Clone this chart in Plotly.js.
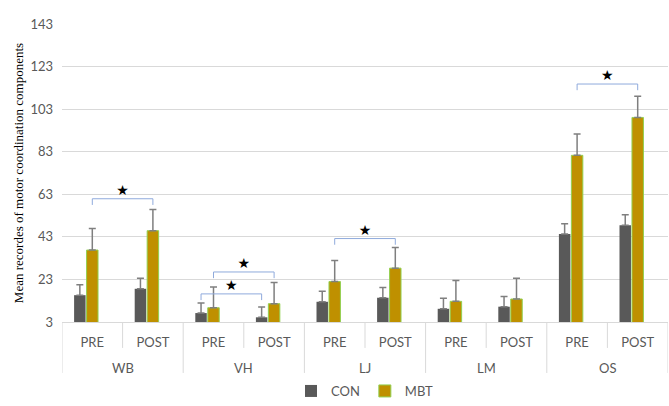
<!DOCTYPE html>
<html>
<head>
<meta charset="utf-8">
<script src="https://cdn.plot.ly/plotly-3.0.1.min.js"></script>
<style>html,body{margin:0;padding:0;background:#fff;}#chart{width:669px;height:406px;}</style>
</head>
<body>
<div id="chart"></div>
<script>
// ---- data ----
const groups = ['WB', 'VH', 'LJ', 'LM', 'OS'];
const phases = ['PRE', 'POST'];
const conMean = [15.6, 18.6, 7.2, 5.2, 12.5, 14.4, 9.2, 10.2, 44.3, 48.4];
const conErr  = [4.9, 4.9, 4.7, 4.8, 4.9, 4.8, 4.9, 4.8, 4.9, 5.0];
const mbtMean = [36.8, 45.9, 9.7, 11.6, 22.0, 28.3, 12.7, 13.8, 81.3, 99.1];
const mbtErr  = [10.1, 10.0, 9.8, 10.0, 9.9, 9.7, 9.8, 9.8, 10.0, 9.9];
// significance brackets (PRE vs POST within a group, for one series)
const sigGroup  = ['WB', 'VH', 'VH', 'LJ', 'OS'];
const sigSeries = ['MBT', 'CON', 'MBT', 'MBT', 'MBT'];
const sigLevel  = [60.9, 16.2, 26.5, 42.2, 114.8];
const sigMark = '★';

// ---- build ----
const keys = [], innerText = [];
groups.forEach(g => phases.forEach(p => { keys.push(g + ' ' + p); innerText.push(p); }));
const zeros = conMean.map(() => 0);
const empty = conMean.map(() => null);

// three slots per category (the source chart reserves an empty third series slot)
const bargap = 0.383;
const slot = (1 - bargap) / 3;
const seriesOffset = { CON: -slot, MBT: 0 };
const legDrop = 2.9, starLift = 3.5;

const bx = [], by = [], sx = [], sy = [];
sigGroup.forEach((g, i) => {
  const gi = groups.indexOf(g);
  const x0 = gi * 2 + seriesOffset[sigSeries[i]];
  const x1 = gi * 2 + 1 + seriesOffset[sigSeries[i]];
  const y = sigLevel[i];
  bx.push(x0, x0, x1, x1, null);
  by.push(y - legDrop, y, y, y - legDrop, null);
  sx.push((x0 + x1) / 2);
  sy.push(y + starLift);
});

const tickFont = { family: 'Lato, "Open Sans", sans-serif', size: 13, color: '#595959' };
const lineCol = '#d9d9d9';

// category-axis decorations: group labels and divider lines
const annotations = groups.map((g, gi) => ({
  text: g, x: gi * 2 + 0.5, xref: 'x', y: -0.154, yref: 'paper',
  xanchor: 'center', yanchor: 'middle', showarrow: false, font: tickFont
}));
const shapes = [];
for (let b = 0; b <= keys.length; b++) {
  const isGroup = b % 2 === 0;
  shapes.push({
    type: 'line', xref: 'x', yref: 'paper', x0: b - 0.5, x1: b - 0.5,
    y0: 0, y1: isGroup ? -0.171 : -0.087, line: { color: lineCol, width: 1 }
  });
}

const traces = [
  {
    type: 'bar', name: 'CON', x: keys, y: conMean,
    marker: { color: '#595959', line: { width: 0 } },
    error_y: { type: 'data', symmetric: false, array: conErr, arrayminus: zeros,
               color: '#7f7f7f', thickness: 1.5, width: 3.5 }
  },
  {
    type: 'bar', name: 'MBT', x: keys, y: mbtMean,
    marker: { color: '#BF9000', line: { color: '#92D050', width: 1 } },
    error_y: { type: 'data', symmetric: false, array: mbtErr, arrayminus: zeros,
               color: '#7f7f7f', thickness: 1.5, width: 3.5 }
  },
  {
    type: 'bar', name: '', x: keys, y: empty, showlegend: false, hoverinfo: 'skip'
  },
  {
    type: 'scatter', mode: 'lines', x: bx, y: by, xaxis: 'x2', yaxis: 'y',
    line: { color: '#8FAADC', width: 1 }, showlegend: false, hoverinfo: 'skip'
  },
  {
    type: 'scatter', mode: 'text', x: sx, y: sy, xaxis: 'x2', yaxis: 'y',
    text: sx.map(() => sigMark), textposition: 'middle center',
    textfont: { family: 'DejaVu Sans', size: 14, color: '#000' },
    showlegend: false, hoverinfo: 'skip'
  }
];

const layout = {
  width: 669, height: 406,
  margin: { l: 62, r: 1, t: 24, b: 83 },
  paper_bgcolor: '#fff', plot_bgcolor: '#fff',
  barmode: 'group', bargap: bargap, bargroupgap: 0.08,
  showlegend: true,
  legend: { orientation: 'h', x: 0.5, xanchor: 'center', y: -0.228, yanchor: 'middle',
            font: tickFont, traceorder: 'normal', itemwidth: 30 },
  xaxis: {
    type: 'category', categoryorder: 'array', categoryarray: keys, range: [-0.5, 9.5],
    tickvals: keys, ticktext: innerText,
    showline: true, linecolor: lineCol, linewidth: 1,
    showgrid: false, ticks: '', ticklabelstandoff: 8,
    tickfont: tickFont
  },
  xaxis2: { overlaying: 'x', range: [-0.5, 9.5], visible: false, anchor: 'y' },
  yaxis: {
    range: [3, 143], tick0: 3, dtick: 20, showgrid: true, gridcolor: lineCol,
    zeroline: false, showline: false, tickfont: tickFont, ticks: '', ticklabelstandoff: 8,
    title: { text: 'Mean recordes of motor coordination components',
             font: { family: '"Liberation Serif", "Times New Roman", serif', size: 13, color: '#000' },
             standoff: 3 }
  },
  annotations: annotations,
  shapes: shapes,
  hovermode: false
};

Plotly.newPlot('chart', traces, layout, { displayModeBar: false, staticPlot: true });
</script>
</body>
</html>
